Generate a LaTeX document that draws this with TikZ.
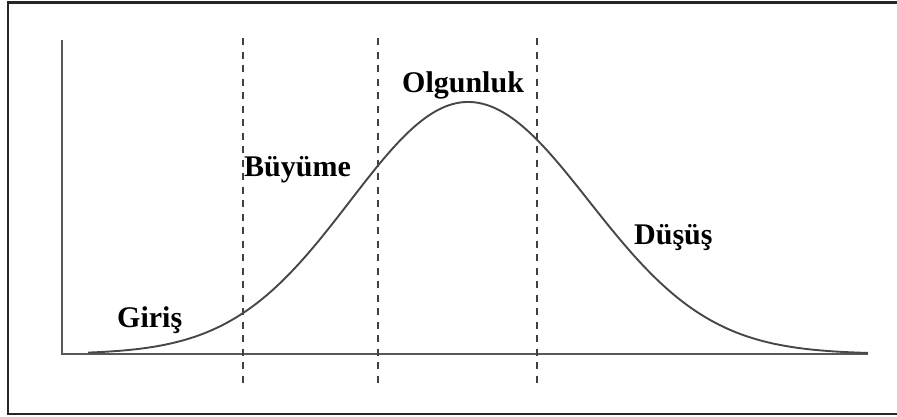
\documentclass[tikz,border=0pt]{standalone}
\usepackage{fontspec}
\setmainfont{Liberation Serif}
\begin{document}
\begin{tikzpicture}[x=1pt,y=-1pt,
  lbl/.style={anchor=base west,inner sep=0pt,font=\fontsize{30}{33}\selectfont\bfseries},
  axisline/.style={draw=black!65,line width=2pt},
  phase/.style={draw=black!75,line width=2.2pt,dash pattern=on 7pt off 6.5pt},
  curveline/.style={draw=black!72,line width=1.9pt}]
\useasboundingbox (0,0) rectangle (897,416);
\draw[draw=black!85,line width=2.4pt] (8,2.5) rectangle (905,414);
% axes
\coordinate (o) at (62,354);
\coordinate (ytop) at (62,40);
\coordinate (xend) at (868,354);
\draw[axisline] (ytop) -- (o) -- (xend);
% phase boundaries
\foreach \n/\x in {a/243,b/378,c/537}{
  \coordinate (\n top) at (\x,38);
  \coordinate (\n bot) at (\x,383);
  \draw[phase] (\n top) -- (\n bot);
}
% curve
\draw[curveline,domain=88:868,samples=160,smooth] plot (\x,{354-252*exp(-0.5*((\x-468)/(\x<468?118:121))^2)});
% labels
\node[lbl] (giris) at (117,327) {Giriş};
\node[lbl] (buyume) at (244,176) {Büyüme};
\node[lbl] (olgunluk) at (402,92) {Olgunluk};
\node[lbl] (dusus) at (634,244) {Düşüş};
\end{tikzpicture}
\end{document}
